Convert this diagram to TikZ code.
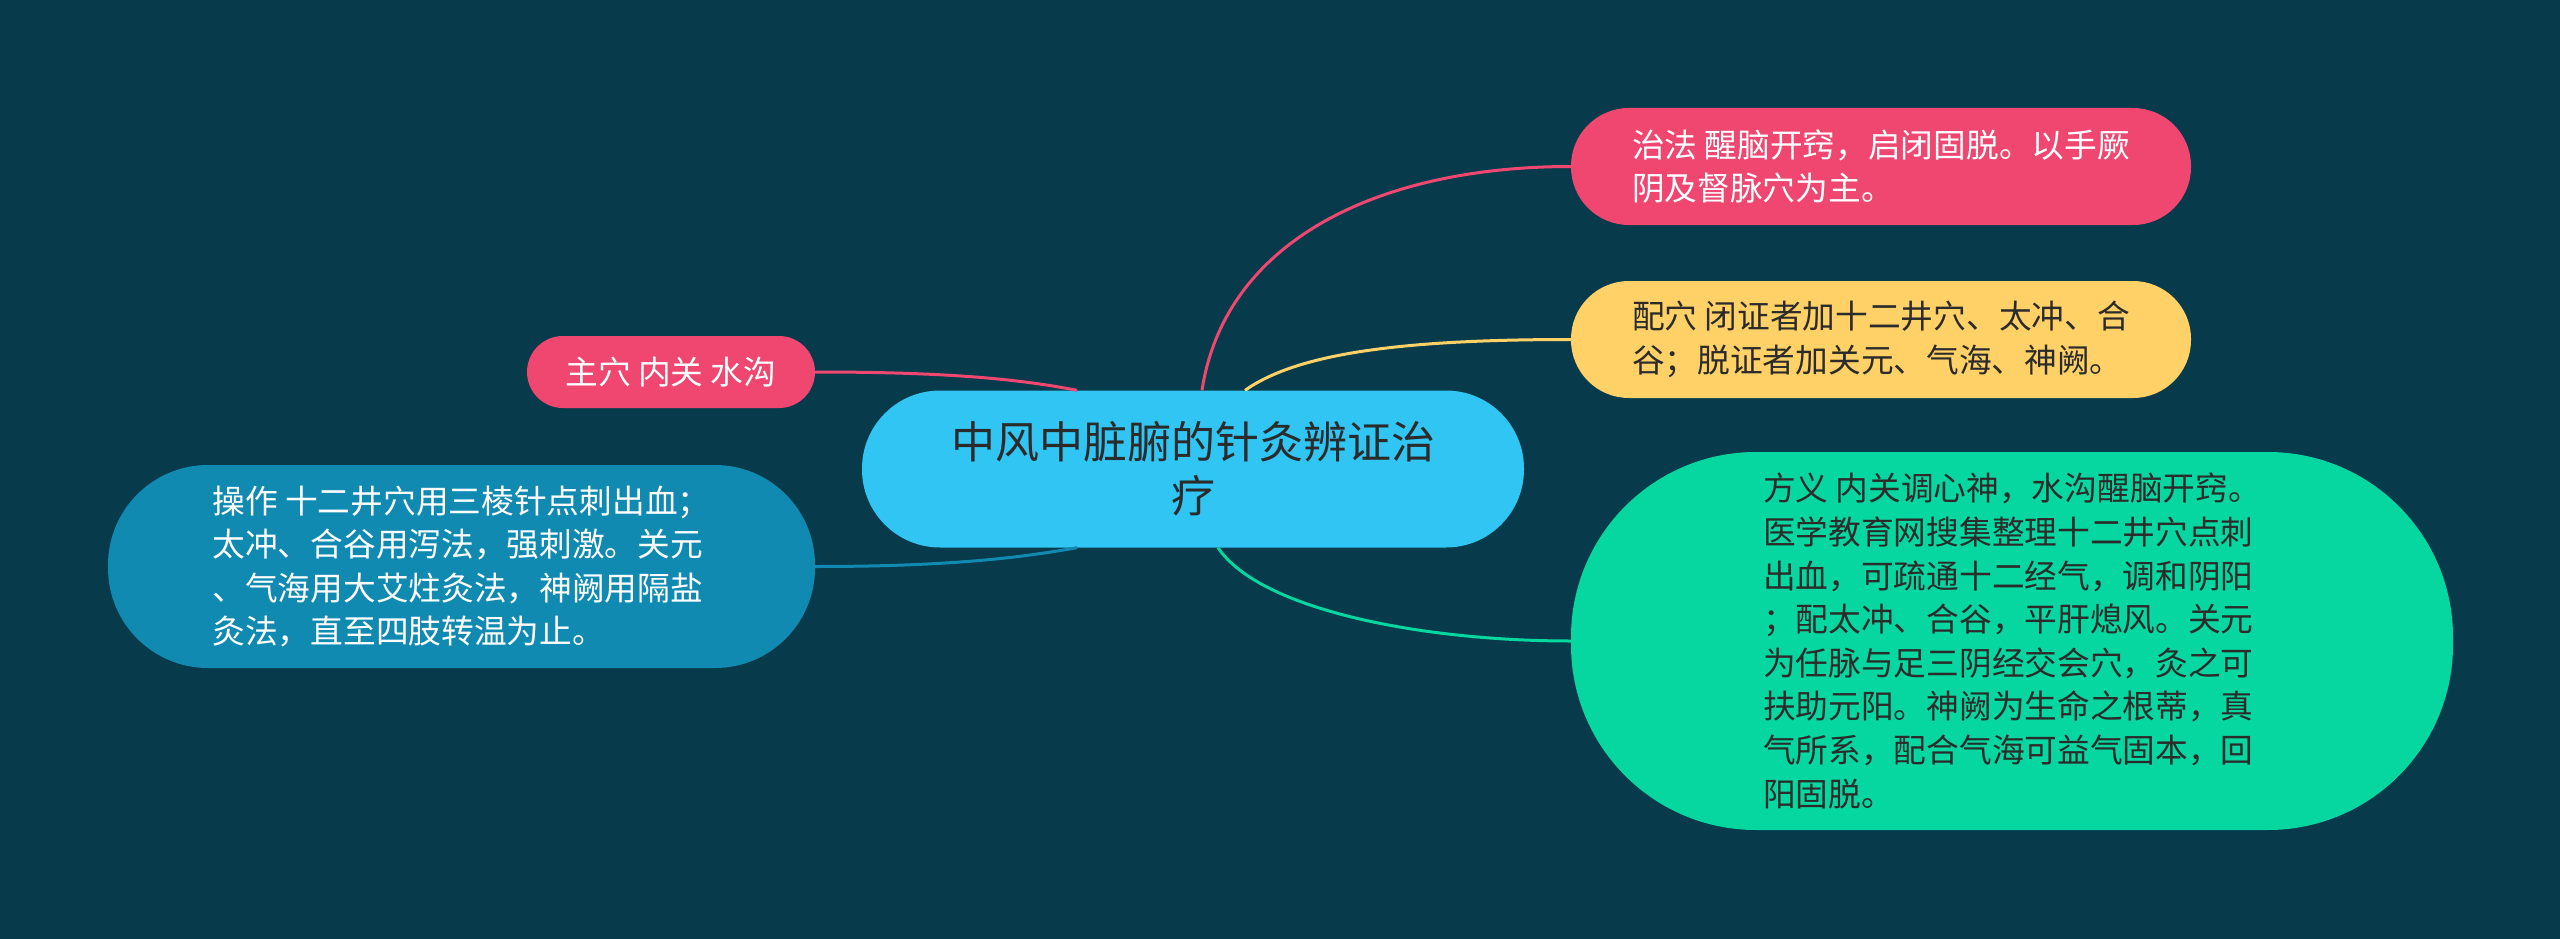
\documentclass[tikz,border=0pt]{standalone}
\usepackage{fontspec}
\newfontfamily\cjk{Noto Sans CJK SC}
\definecolor{bgc}{HTML}{073B4C}
\definecolor{pinkc}{HTML}{EF476F}
\definecolor{yelc}{HTML}{FFD166}
\definecolor{grnc}{HTML}{06D6A0}
\definecolor{bluc}{HTML}{118AB2}
\definecolor{cenc}{HTML}{30C5F3}
\definecolor{darkt}{HTML}{2B2B2B}
\begin{document}
\begin{tikzpicture}[x=1pt,y=-1pt,
  box/.style={rectangle, inner sep=0pt, align=left, font=\cjk\fontsize{32.7}{43.6}\selectfont},
  link/.style={line width=3pt}]
\fill[bgc] (0,0) rectangle (2560,939);
\useasboundingbox (0,0) rectangle (2560,939);

\node[box, fill=cenc, text=darkt, align=center, minimum width=662pt, minimum height=157pt,
  rounded corners=78pt, font=\cjk\fontsize{44}{54}\selectfont] (c) at (1193,469)
  {中风中脏腑的针灸辨证治\\疗};

\node[box, fill=pinkc, text=white, minimum width=620pt, minimum height=117pt, rounded corners=58pt]
  (n1) at (1881,166.5) {治法 醒脑开窍，启闭固脱。以手厥\\阴及督脉穴为主。};

\node[box, fill=yelc, text=darkt, minimum width=620pt, minimum height=117pt, rounded corners=58pt]
  (n2) at (1881,339.5) {配穴 闭证者加十二井穴、太冲、合\\谷；脱证者加关元、气海、神阙。};

\node[box, fill=grnc, text=darkt, minimum width=882pt, minimum height=378pt, rounded corners=185pt]
  (n3) at (2012,641) {方义 内关调心神，水沟醒脑开窍。\\医学教育网搜集整理十二井穴点刺\\出血，可疏通十二经气，调和阴阳\\；配太冲、合谷，平肝熄风。关元\\为任脉与足三阴经交会穴，灸之可\\扶助元阳。神阙为生命之根蒂，真\\气所系，配合气海可益气固本，回\\阳固脱。};

\node[box, fill=pinkc, text=white, minimum width=288pt, minimum height=72pt, rounded corners=36pt]
  (n4) at (671,372) {主穴 内关 水沟};

\node[box, fill=bluc, text=white, minimum width=707pt, minimum height=203pt, rounded corners=100pt]
  (n5) at (461.5,566.5) {操作 十二井穴用三棱针点刺出血；\\太冲、合谷用泻法，强刺激。关元\\、气海用大艾炷灸法，神阙用隔盐\\灸法，直至四肢转温为止。};

\draw[link, pinkc] ([xshift=9pt]c.north) .. controls +(23,-150) and +(-192,0) .. (n1.west);
\draw[link, yelc] ([xshift=52pt]c.north) .. controls +(50,-35) and +(-180,0) .. (n2.west);
\draw[link, grnc] ([xshift=25pt]c.south) .. controls +(42,62) and +(-150,0) .. (n3.west);
\draw[link, pinkc] (n4.east) .. controls +(135,0) and +(-57,-11) .. ([xshift=-116pt]c.north);
\draw[link, bluc] (n5.east) .. controls +(135,0) and +(-57,10) .. ([xshift=-116pt]c.south);
\end{tikzpicture}
\end{document}
